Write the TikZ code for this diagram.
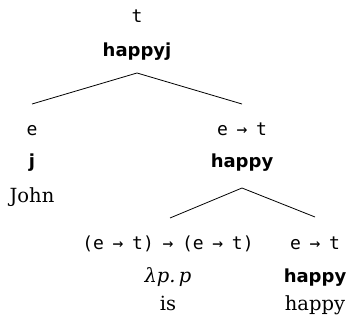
\documentclass[tikz,border=0pt]{standalone}
\usepackage{fontspec}
\setmainfont{DejaVu Serif}
\newfontfamily\typefont[WordSpace=0.8]{DejaVu Sans Mono}
\newfontfamily\termfont{DejaVu Sans}
\begin{document}
\begin{tikzpicture}[x=1pt,y=-1pt,
  ty/.style={anchor=base,inner sep=0pt,font=\typefont\fontsize{18}{20}\selectfont},
  tm/.style={anchor=base,inner sep=0pt,font=\termfont\bfseries\fontsize{18}{20}\selectfont},
  wd/.style={anchor=base,inner sep=0pt,font=\fontsize{19.5}{22}\selectfont},
  edge/.style={line width=0.8pt}]
\useasboundingbox (0,0) rectangle (348,323);
% root
\node[ty] (rt) at (137,23) {t};
\node[tm] (rm) at (137,57) {happyj};
\coordinate (ra) at (137,73);
% left child
\node[ty] (lt) at (32,136) {e};
\node[tm] (lm) at (32,168) {j};
\node[wd] (lw) at (32,203) {John};
\coordinate (la) at (32,104);
% right child
\node[ty] (mt) at (242,136) {e → t};
\node[tm] (mm) at (242,168) {happy};
\coordinate (ma) at (242,104);
\coordinate (mb) at (242,188);
% grandchildren
\node[ty] (it) at (168,250) {(e → t) → (e → t)};
\node[wd] (im) at (168,282) {\itshape λp.\,p};
\node[wd] (iw) at (168,310) {is};
\coordinate (ia) at (170,218);
\node[ty] (ht) at (315,250) {e → t};
\node[tm] (hm) at (315,282) {happy};
\node[wd] (hw) at (315,310) {happy};
\coordinate (ha) at (315,217);
\draw[edge] (la) -- (ra) -- (ma);
\draw[edge] (ia) -- (mb) -- (ha);
\end{tikzpicture}
\end{document}
